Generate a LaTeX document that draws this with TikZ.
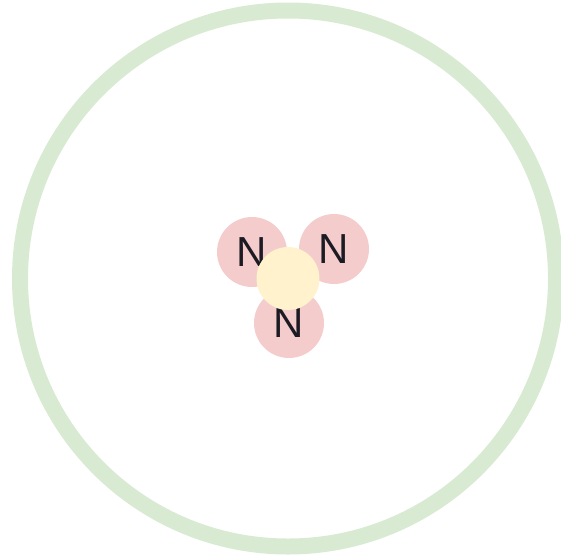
\documentclass[tikz,border=0pt]{standalone}
\usepackage{fontspec}
\setsansfont{Liberation Sans}
\usepackage{xcolor}
\definecolor{shellgreen}{HTML}{D9EAD3}
\definecolor{atompink}{HTML}{F4CCCC}
\definecolor{coreyellow}{HTML}{FFF2CC}
\definecolor{letter}{HTML}{1C1B24}

\begin{document}
\begin{tikzpicture}[x=1pt,y=-1pt,
  atom/.style={circle, fill=atompink, minimum size=70pt, inner sep=0pt, text=letter,
    font=\sffamily\fontsize{42}{42}\selectfont},
  core/.style={circle, fill=coreyellow, minimum size=63pt, inner sep=0pt}]
\useasboundingbox (0,0) rectangle (561,557);
\node[draw=shellgreen, line width=16pt, circle, minimum size=536pt, inner sep=0pt](shell) at (288,278.5){};
\node[atom](nleft) at (252,252){N};
\node[atom](nright) at (334,249){N};
\node[atom](nbottom) at (289,323){N};
\node[core](core) at (288,278.5){};
\end{tikzpicture}
\end{document}
